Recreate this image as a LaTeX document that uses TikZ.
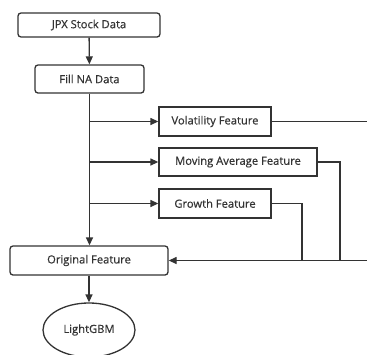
\documentclass[tikz,border=0pt]{standalone}
\usepackage{fontspec}
\newfontfamily\diagfont{Open Sans}[FakeBold=0.5]
\usepackage{xcolor}
\usepackage{tikz}
\usetikzlibrary{shapes,arrows,positioning,calc,arrows.meta}

\definecolor{linegray}{HTML}{333333}

\begin{document}
\begin{tikzpicture}[x=1pt, y=-1pt,
    every node/.style={text=linegray, font=\diagfont\fontsize{11.2}{13}\selectfont},
    roundbox/.style={draw=linegray, line width=1.3pt, rounded corners=3pt, inner sep=0pt},
    featbox/.style={draw=linegray, line width=1.3pt, inner sep=0pt, minimum width=112pt, minimum height=29pt},
    conn/.style={draw=linegray, line width=1.3pt},
    flow/.style={conn, -{Triangle[length=8pt, width=7pt]}}]
    \useasboundingbox[fill=white] (0,0) rectangle (367,354);

    % main column
    \node[roundbox, minimum width=142pt, minimum height=24pt] (jpx) at (89,25) {JPX Stock Data};
    \node[roundbox, minimum width=109pt, minimum height=28pt] (fill) at (89.5,79) {Fill NA Data};
    \node[roundbox, minimum width=158pt, minimum height=29pt] (orig) at (89,260.5) {Original Feature};
    \node[draw=linegray, line width=1.3pt, ellipse, minimum width=92pt, minimum height=54pt, inner sep=0pt] (lgbm) at (89,330) {LightGBM};

    % feature boxes
    \node[featbox] (vol) at (215,121.5) {Volatility Feature};
    \node[featbox, minimum width=158pt, minimum height=28pt] (ma) at (238,162) {Moving Average Feature};
    \node[featbox] (grow) at (215,203.5) {Growth Feature};

    \draw[flow] (jpx) -- (fill);
    \draw[flow] (fill.south) -- (fill.south |- orig.north);
    \draw[flow] (orig) -- (lgbm);

    % branches off the trunk
    \coordinate (b1) at (fill.south |- vol.west);
    \coordinate (b2) at (fill.south |- ma.west);
    \coordinate (b3) at (fill.south |- grow.west);
    \draw[flow] (b1) -- (vol);
    \draw[flow] (b2) -- (ma);
    \draw[flow] (b3) -- (grow);

    % back into original feature
    \coordinate (r1) at (370,121.5);
    \coordinate (r2) at (340,162);
    \coordinate (r3) at (302,203.5);
    \draw[conn] (vol.east) -- (r1) -- (r1 |- orig.east);
    \draw[conn] (ma.east) -- (r2) -- (r2 |- orig.east);
    \draw[conn] (grow.east) -- (r3) -- (r3 |- orig.east);
    \draw[flow] (r1 |- orig.east) -- (orig.east);
\end{tikzpicture}
\end{document}
